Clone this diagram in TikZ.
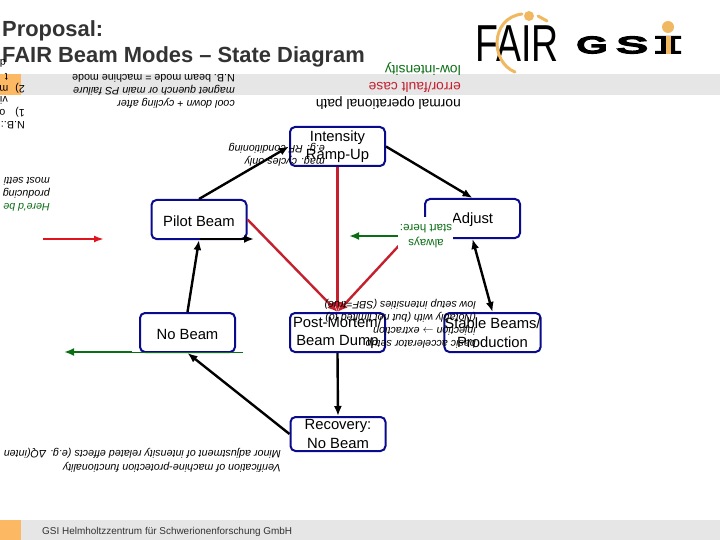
\documentclass[tikz,border=0pt]{standalone}
\usepackage{fontspec}
\setmainfont{Liberation Sans}
\newfontfamily\logofont[FakeBold=8]{Liberation Sans}
\usetikzlibrary{arrows.meta}
\definecolor{boxblue}{HTML}{0A0A8C}
\definecolor{failred}{HTML}{C4202E}
\definecolor{legendred}{HTML}{E0141E}
\definecolor{lowgreen}{HTML}{0A6E14}
\definecolor{bandgrey}{HTML}{E6E6E6}
\definecolor{slideorange}{HTML}{FDB863}
\definecolor{logoorange}{HTML}{F0B860}
\definecolor{titlegrey}{HTML}{333333}
\tikzset{
  modebox/.style={draw=boxblue,line width=2pt,rounded corners=5pt,fill=white,minimum width=95pt,
    minimum height=39pt,inner sep=0pt,align=center,font=\fontsize{14.8}{18.5}\selectfont,
    execute at begin node={\rule{0pt}{14pt}}},
  normalpath/.style={-{Latex[length=10pt,width=8pt]},line width=2.4pt,black},
  failpath/.style={-{Latex[length=10pt,width=9pt]},line width=2.4pt,failred},
  lowpath/.style={-{Latex[length=10pt,width=8pt]},line width=2.4pt,lowgreen},
  upnote/.style={rotate=180,anchor=west,inner sep=0pt,align=left,font=\fontsize{10.7}{13}\selectfont\itshape},
  upplain/.style={rotate=180,anchor=west,inner sep=0pt,align=left,font=\fontsize{10.7}{13}\selectfont},
  uplegend/.style={rotate=180,anchor=west,inner sep=0pt,align=left,font=\fontsize{13.8}{16.7}\selectfont},
  titletext/.style={anchor=west,inner sep=0pt,text=titlegrey,font=\fontsize{21.9}{26}\selectfont\bfseries}
}
\begin{document}
\begin{tikzpicture}[x=1pt,y=-1pt]
    \useasboundingbox (0,0) rectangle (720,540);
    \clip (0,0) rectangle (720,540);

    % Upside-down band and footer
    \fill[bandgrey] (21,74) rectangle (720,95);
    \fill[slideorange] (0,74) rectangle (21,95);
    \fill[bandgrey] (21,520) rectangle (720,540);
    \fill[slideorange] (0,520) rectangle (21,540);
    \node[anchor=west,inner sep=0pt,text=titlegrey,font=\fontsize{9.95}{12}\selectfont] (footer) at (42,531.5) {GSI Helmholtzzentrum für Schwerionenforschung GmbH};

    % Title
    \node[titletext] (title1) at (2,31) {Proposal:};
    \node[titletext] (title2) at (2,57) {FAIR Beam Modes – State Diagram};

    % FAIR logo
    \node[inner sep=0pt,xscale=0.72,font=\fontsize{52}{52}\selectfont] (fairlogo) at (517,44) {FAIR};
    \draw[logoorange,line width=3pt,line cap=round] (522,14) .. controls (490,18) and (490,62) .. (515,72);
    \fill[logoorange] (529,16) circle (5pt);
    \draw[logoorange,line width=3pt,line cap=round] (538,16) -- (547,21);

    % GSI logo
    \node[inner sep=0pt,xscale=1.7,font=\logofont\fontsize{23}{23}\selectfont] (gsig) at (592,45) {G};
    \node[inner sep=0pt,xscale=2,font=\logofont\fontsize{23}{23}\selectfont] (gsis) at (632,45) {S};
    \fill[black] (655,36) rectangle (681,39) (655,51) rectangle (681,54) (661,36) rectangle (675,54);
    \fill[logoorange] (665.5,36) rectangle (670.5,54);
    \fill[logoorange] (668,27) circle (6pt);

    % Modes
    \node[modebox] (ramp) at (337.5,146.5) {Intensity\\Ramp-Up};
    \node[modebox] (pilot) at (199,219.5) {Pilot Beam};
    \node[modebox] (nobeam) at (187.5,332.5) {No Beam};
    \node[modebox] (adjust) at (472.5,218.5) {Adjust};
    \node[modebox] (postmortem) at (337.5,332.5) {Post-Mortem/\\Beam Dump};
    \node[modebox] (stable) at (492.5,332.5) {Stable Beams/\\Production};
    \node[modebox,minimum height=34pt] (recovery) at (338,434) {Recovery:\\No Beam};

    % Normal operational paths
    \draw[normalpath] (pilot.north) -- (ramp.west);
    \draw[normalpath] (ramp.east) -- (adjust.north);
    \draw[normalpath,{Latex[length=10pt,width=8pt]}-{Latex[length=10pt,width=8pt]}] (adjust.south) -- (stable.north);
    \draw[normalpath] (nobeam.north) -- (pilot.south);
    \draw[normalpath] (recovery.west) -- (nobeam.south);
    \draw[normalpath] (postmortem.south) -- (recovery.north);

    % Error paths
    \draw[failpath] (ramp.south) -- (postmortem.north);
    \draw[failpath] (pilot.east) -- (postmortem.north);
    \draw[failpath] (adjust.west) -- (postmortem.north);

    % Legend arrows
    \coordinate (blackfrom) at (200,239);
    \coordinate (blackto) at (254,239);
    \coordinate (redfrom) at (43,239);
    \coordinate (redto) at (104,239);
    \coordinate (greenfrom) at (132,352);
    \coordinate (greento) at (64,352);
    \coordinate (greenend) at (243,352);
    \draw[normalpath] (blackfrom) -- (blackto);
    \draw[-{Latex[length=10pt,width=7pt]},line width=2pt,legendred] (redfrom) -- (redto);
    \draw[line width=1pt,lowgreen] (greenend) -- (greenfrom);
    \draw[lowpath] (greenfrom) -- (greento);

    % Start marker on top of the Adjust box
    \fill[white] (398,217) rectangle (453,248);
    \node[rotate=180,inner sep=0pt,align=center,text=lowgreen,font=\fontsize{11.6}{15}\selectfont] (starthere) at (426,236) {always\\start here:};
    \coordinate (startfrom) at (398,236);
    \coordinate (startto) at (349,236);
    \draw[lowpath] (startfrom) -- (startto);

    % Upside-down legend
    \node[uplegend] (legend) at (461,86) {normal operational path\\\textcolor{failred}{error/fault case}\\\textcolor{lowgreen}{low-intensity}};

    % Upside-down notes
    \node[upnote] (cooldown) at (235,91.5) {cool down + cycling after\\magnet quench or main PS failure\\\upshape N.B. beam mode = machine mode};
    \node[upnote] (rfnote) at (325,155) {mag. cycles only\\e.g. RF conditioning};
    \node[upnote] (pilotnote) at (50,194) {\textcolor{lowgreen}{Here'd be}\\producing\\most setti};
    \node[upnote] (setupnote) at (476,323.5) {basic accelerator setup\\injection $\rightarrow$ extraction\\(Notably with (but not limited to)\\low setup intensities (SBF=true)};
    \node[upnote,font=\fontsize{10.7}{14}\selectfont\itshape] (recnote) at (281,460) {Verification of machine-protection functionality\\Minor adjustment of intensity related effects (e.g. ΔQ(inten};

    % Notes cut by the left edge
    \node[upplain] (nbnote) at (25,125) {N.B.:};
    \node[upplain] (nbone) at (25,112) {1)\hspace{10pt}o};
    \node[upplain] (nbvia) at (8,100) {vi};
    \node[upplain] (nbtwo) at (25,88) {2)\hspace{7pt}m};
    \node[upplain] (nbthe) at (8,76.5) {t};
    \node[upplain] (nbtop) at (6,63) {d};
\end{tikzpicture}
\end{document}
